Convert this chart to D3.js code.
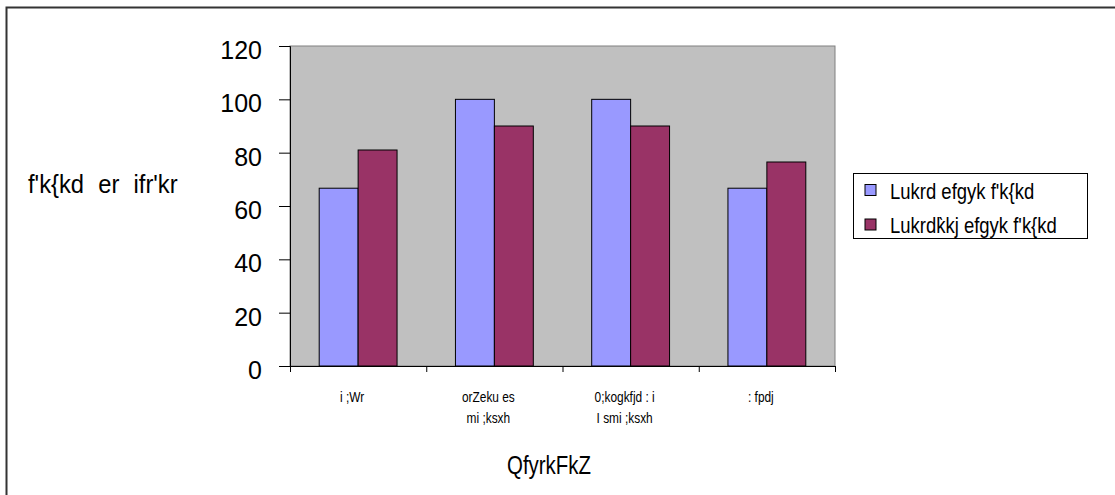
<!DOCTYPE html>
<html>
<head>
<meta charset="utf-8">
<script src="https://cdn.jsdelivr.net/npm/d3@7"></script>
<style>
  html, body { margin: 0; padding: 0; background: #fff; }
  svg { display: block; }
  .label { font-family: "Liberation Sans", Arial, sans-serif; fill: #000; }
</style>
</head>
<body>
<svg id="chart" width="1115" height="495"></svg>
<script>
// Category labels (each entry is a list of lines)
const categories = [
  ["i ;Wr"],
  ["orZeku es", "mi ;ksxh"],
  ["0;kogkfjd : i", "I smi ;ksxh"],
  [": fpdj"]
];
const seriesNames = ["Lukrd efgyk f'k{kd", "Lukrdk̀kj efgyk f'k{kd"];
const graduateValues = [66.67, 100, 100, 66.67];
const postgraduateValues = [81, 90, 90, 76.5];
const yTicks = [0, 20, 40, 60, 80, 100, 120];
const yTitle = "f'k{kd er ifr'kr";
const xTitle = "QfyrkFkZ";

const colors = ["#9999FF", "#993366"];

const svg = d3.select("#chart");

// condensed look for the legacy-font labels: squeeze text horizontally
function squeeze(sel, factor) {
  sel.each(function () {
    const w = this.getComputedTextLength();
    if (w > 0) {
      this.setAttribute("textLength", (w * factor).toFixed(1));
      this.setAttribute("lengthAdjust", "spacingAndGlyphs");
    }
  });
}

// outer chart frame
svg.append("rect")
  .attr("x", 6.5).attr("y", 7.5)
  .attr("width", 1200).attr("height", 600)
  .attr("fill", "#fff")
  .attr("stroke", "#333").attr("stroke-width", 2);

const plot = { left: 290, top: 46, right: 835, bottom: 366 };

const x0 = d3.scaleBand()
  .domain(d3.range(categories.length))
  .range([plot.left, plot.right]);

const barW = x0.bandwidth() / 3.5;
const x1 = d3.scaleBand().domain([0, 1]).range([0, barW * 2]);

const y = d3.scaleLinear().domain([0, 120]).range([plot.bottom, plot.top]);

// plot area background
svg.append("rect")
  .attr("x", plot.left).attr("y", plot.top)
  .attr("width", plot.right - plot.left).attr("height", plot.bottom - plot.top)
  .attr("fill", "#C0C0C0")
  .attr("stroke", "#808080").attr("stroke-width", 1);

// bars
const rows = categories.map((c, i) => [graduateValues[i], postgraduateValues[i]]);
const groups = svg.append("g").selectAll("g")
  .data(rows).join("g")
  .attr("transform", (d, i) => `translate(${x0(i) + (x0.bandwidth() - barW * 2) / 2},0)`);

groups.selectAll("rect")
  .data(d => d.map((v, s) => ({ v, s })))
  .join("rect")
  .attr("x", d => x1(d.s))
  .attr("y", d => y(d.v))
  .attr("width", x1.bandwidth())
  .attr("height", d => y(0) - y(d.v))
  .attr("fill", d => colors[d.s])
  .attr("stroke", "#000").attr("stroke-width", 1);

// y axis
const gy = svg.append("g")
  .attr("transform", `translate(${plot.left},0)`)
  .call(d3.axisLeft(y).tickValues(yTicks).tickSize(11).tickPadding(17));
gy.select(".domain").attr("stroke", "#000");
gy.selectAll(".tick line").attr("stroke", "#000");
gy.selectAll(".tick text")
  .attr("font-family", "Liberation Sans, Arial, sans-serif")
  .attr("font-size", 25)
  .attr("dy", "0.5em")
  .attr("fill", "#000");

// x axis with ticks between categories
const xAxisScale = d3.scaleLinear().domain([0, categories.length]).range([plot.left, plot.right]);
const gx = svg.append("g")
  .attr("transform", `translate(0,${plot.bottom})`)
  .call(d3.axisBottom(xAxisScale).ticks(categories.length).tickSize(6).tickFormat(""));
gx.select(".domain").attr("stroke", "#000");
gx.selectAll(".tick line").attr("stroke", "#000");

// category labels
const catX = i => x0(i) + x0.bandwidth() / 2 - 6;
const catLabels = svg.append("g").selectAll("text")
  .data(categories).join("text")
  .attr("class", "label")
  .attr("x", (d, i) => catX(i))
  .attr("y", 402)
  .attr("text-anchor", "middle")
  .attr("font-size", 14);
catLabels.selectAll("tspan")
  .data(d => d).join("tspan")
  .attr("x", function () { return this.parentNode.getAttribute("x"); })
  .attr("dy", (d, i) => i === 0 ? 0 : 21)
  .text(d => d);
catLabels.selectAll("tspan").call(squeeze, 0.85);

// axis titles: narrow glyphs with wider word gaps
svg.append("text")
  .attr("class", "label")
  .attr("transform", "translate(28,193) scale(0.95,1)")
  .attr("font-size", 25)
  .attr("word-spacing", 8)
  .text(yTitle);

svg.append("text")
  .attr("class", "label")
  .attr("x", 507).attr("y", 474)
  .attr("font-size", 26)
  .attr("textLength", 84).attr("lengthAdjust", "spacingAndGlyphs")
  .text(xTitle);

// legend
const legend = svg.append("g");
legend.append("rect")
  .attr("x", 853.5).attr("y", 173.5)
  .attr("width", 234).attr("height", 65)
  .attr("fill", "#fff")
  .attr("stroke", "#000").attr("stroke-width", 1);

const items = legend.selectAll("g.item")
  .data(seriesNames).join("g")
  .attr("class", "item")
  .attr("transform", (d, i) => `translate(865,${184.5 + i * 34.5})`);
items.append("rect")
  .attr("width", 11).attr("height", 11)
  .attr("fill", (d, i) => colors[i])
  .attr("stroke", "#000").attr("stroke-width", 1);
items.append("text")
  .attr("class", "label")
  .attr("x", 25).attr("y", 14)
  .attr("font-size", 22)
  .text(d => d)
  .call(squeeze, 0.84);
</script>
</body>
</html>
